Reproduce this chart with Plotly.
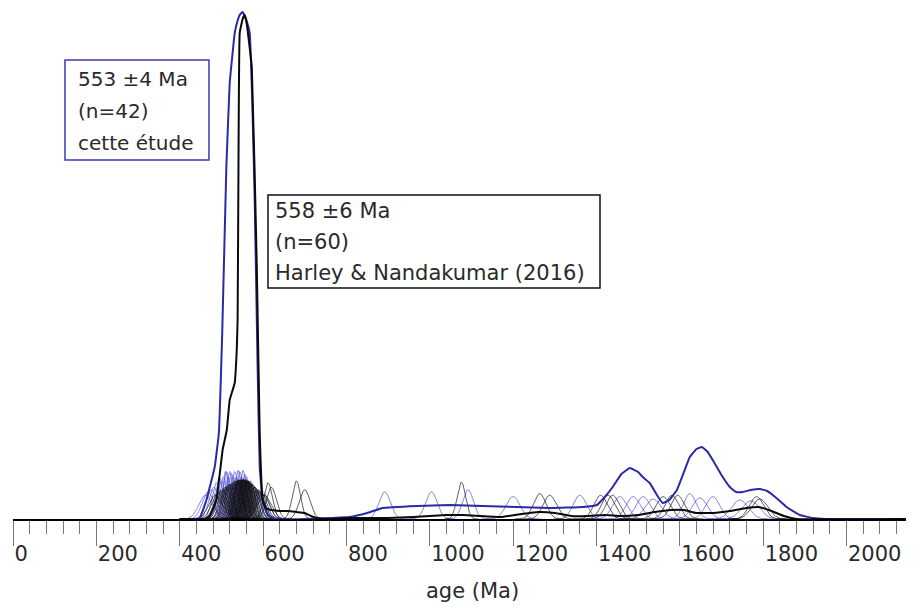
import numpy as np
import plotly.graph_objects as go

# ---------------- data ----------------
# individual grain ages (Ma) and 1-sigma uncertainties (Ma)
blue_ages = [462, 468, 476, 482, 488, 495, 500, 505, 510, 512, 516, 520, 524, 528,
             532, 536, 540, 544, 548, 552, 556, 560, 565, 570, 575, 580, 590, 600,
             892, 1004, 1092, 1200, 1360, 1456, 1488, 1512, 1536, 1624, 1648, 1679,
             1744, 1770]
blue_sig = [16, 14, 13, 12, 10.5, 9, 10, 9, 8, 8, 9, 8, 8.3, 9,
            8, 9, 7.8, 8, 9, 7.8, 8.5, 9, 10, 10, 11, 12, 13, 14,
            14, 14, 13, 17, 16, 17, 17, 17, 19, 15, 18, 17,
            20, 21]

black_ages = [486, 492, 497, 501, 505, 509, 512, 515, 518, 521, 524, 527, 530, 532,
              535, 537, 540, 542, 544, 546, 548, 550, 552, 554, 556, 558, 560, 562,
              564, 566, 568, 570, 572, 575, 578, 581, 584, 587, 590, 594, 598, 603,
              540, 553, 561,
              612, 620, 680, 700, 1076, 1264, 1288, 1410, 1428, 1439, 1560, 1581,
              1595, 1784, 1792]
black_sig = [16, 15, 14, 13, 13, 12, 12, 11.5, 11, 11, 11, 10.5, 10.5, 10,
             10, 10, 10, 9.7, 9.7, 9.7, 9.7, 9.7, 9.7, 9.7, 9.7, 9.7, 10, 10,
             10, 10, 10.5, 10.5, 11, 11, 12, 12, 13, 13, 14, 14, 15, 16,
             9.7, 9.5, 9.7,
             10.5, 12, 10, 13, 10.3, 15, 16, 16, 16, 16, 17, 16,
             16, 17, 19]

# summed probability curves (age in Ma, relative density)
blue_sum_age = [400, 436, 448, 464, 484, 494, 502, 512, 520, 526, 532, 538, 544, 548,
                551, 555, 560, 568, 574,
                580, 587, 592, 599, 611, 630, 700, 760, 808, 850, 887, 969, 1048, 1127,
                1208, 1288, 1367, 1401, 1420, 1439, 1460, 1480, 1500, 1511, 1528, 1545,
                1559, 1575, 1593, 1610, 1624, 1640, 1653, 1667, 1679, 1700, 1720, 1735,
                1751, 1770, 1792, 1810, 1823, 1840, 1856, 1888, 1919, 1950, 2160]
blue_sum_val = [0, 0, 1, 19, 52, 86, 186, 352, 436, 462, 486, 497, 504, 506,
                507, 504, 499, 486, 420,
                319, 152, 52, 19, 4, 0, 0, 1, 2, 6, 11, 13, 14, 13,
                12, 11, 12, 14, 22, 32, 45, 51, 47, 42, 36, 24,
                16, 19, 29, 47, 62, 70, 72, 67, 59, 44, 32, 27,
                27, 29, 30, 28, 24, 18, 12, 4, 1, 0, 0]

black_sum_age = [400, 460, 472, 488, 503, 513, 520, 532, 537, 539, 541, 544, 551, 556,
                 561, 573, 585, 592, 599, 606, 620, 640, 660, 680, 700, 715, 730, 760,
                 800, 900, 960, 1000, 1040, 1080, 1120, 1170, 1220, 1260, 1300, 1340,
                 1380, 1420, 1460, 1500, 1540, 1580, 1610, 1640, 1680, 1720, 1760, 1790,
                 1820, 1850, 1880, 2160]
black_sum_val = [0, 0, 3, 19, 69, 89, 119, 136, 170, 200, 350, 486, 500, 504,
                 495, 452, 252, 86, 19, 11, 9, 8, 8, 7, 6, 3, 1, 0,
                 1, 1, 2, 3, 4, 4, 3, 2, 5, 7, 6, 3,
                 3, 4, 3, 4, 7, 9, 9, 6, 6, 8, 11, 12,
                 8, 3, 0, 0]

tick_vals = [0, 200, 400, 600, 800, 1000, 1200, 1400, 1600, 1800, 2000]
tick_text = ["0", "200", "400", "600", "800", "1000", "1200", "1400", "1600", "1800", "2000"]

blue_label = ["553 ±4 Ma", "(n=42)", "cette étude"]
black_label = ["558 ±6 Ma", "(n=60)", "Harley & Nandakumar (2016)"]
x_title = "age (Ma)"

# ---------------- build figure ----------------
K = 380.0  # area scale of each single-grain density curve


def grain_curves(ages, sigs):
    xs, ys = [], []
    for a, s in zip(ages, sigs):
        x = np.linspace(a - 4 * s, a + 4 * s, 61)
        y = K / s * np.exp(-0.5 * ((x - a) / s) ** 2)
        xs.extend(x.tolist() + [None])
        ys.extend(y.tolist() + [None])
    return xs, ys


FONT = "DejaVu Sans, Arial, sans-serif"
TXT = "#2a2a2a"
BLUE_THIN = "rgba(70,70,210,0.65)"
BLACK_THIN = "rgba(10,10,10,0.65)"
BLUE_THICK = "#2a2aa6"
BLACK_THICK = "#0a0a0a"

fig = go.Figure()
ux, uy = grain_curves(blue_ages, blue_sig)
fig.add_trace(go.Scatter(x=ux, y=uy, mode="lines", line=dict(color=BLUE_THIN, width=1),
                         hoverinfo="skip", showlegend=False))
bx, by = grain_curves(black_ages, black_sig)
fig.add_trace(go.Scatter(x=bx, y=by, mode="lines", line=dict(color=BLACK_THIN, width=1),
                         hoverinfo="skip", showlegend=False))
fig.add_trace(go.Scatter(x=blue_sum_age, y=blue_sum_val, mode="lines",
                         line=dict(color=BLUE_THICK, width=2, shape="spline", smoothing=0.3),
                         showlegend=False))
fig.add_trace(go.Scatter(x=black_sum_age, y=black_sum_val, mode="lines",
                         line=dict(color=BLACK_THICK, width=2, shape="spline", smoothing=0.3),
                         showlegend=False))

# label boxes
fig.add_shape(type="rect", xref="paper", yref="paper", x0=0.0577, x1=0.2175, y0=0.7025, y1=0.8982,
              line=dict(color="#3a3ab8", width=1.5), fillcolor="rgba(255,255,255,0)")
fig.add_shape(type="rect", xref="paper", yref="paper", x0=0.2830, x1=0.6515, y0=0.4521, y1=0.6341,
              line=dict(color="#111111", width=1.5), fillcolor="rgba(255,255,255,0)")

for txt, yp in zip(blue_label, [0.8611, 0.7984, 0.7358]):
    fig.add_annotation(text=txt, xref="paper", yref="paper", x=0.0700, y=yp,
                       xanchor="left", yanchor="middle", showarrow=False,
                       font=dict(family=FONT, size=20, color=TXT))
for txt, yp in zip(black_label, [0.6027, 0.5421, 0.4814]):
    fig.add_annotation(text=txt, xref="paper", yref="paper", x=0.2891, y=yp,
                       xanchor="left", yanchor="middle", showarrow=False,
                       font=dict(family=FONT, size=21, color=TXT))

fig.add_annotation(text=x_title, xref="paper", yref="paper", x=0.5105, y=0, yshift=-72,
                   xanchor="center", yanchor="middle", showarrow=False,
                   font=dict(family=FONT, size=21, color=TXT))

fig.update_xaxes(range=[0, 2162], showgrid=False, zeroline=False,
                 showline=True, linecolor="black", linewidth=2,
                 tickmode="array", tickvals=tick_vals, ticktext=tick_text,
                 ticks="outside", ticklen=25, tickwidth=1, tickcolor="#777777",
                 ticklabelposition="outside right", ticklabelstandoff=15,
                 tickfont=dict(family=FONT, size=21, color=TXT),
                 minor=dict(dtick=40, tick0=0, ticks="outside", ticklen=13, tickwidth=1,
                            tickcolor="#777777", showgrid=False))
fig.update_yaxes(range=[0, 511], visible=False, showgrid=False, zeroline=False)

# page body has an 8px margin: size the figure so the plot lands where the reference has it
fig.update_layout(width=906, height=600, margin=dict(l=5, r=0, t=0, b=89),
                  paper_bgcolor="white", plot_bgcolor="white", showlegend=False)

fig.write_html("out.html")
